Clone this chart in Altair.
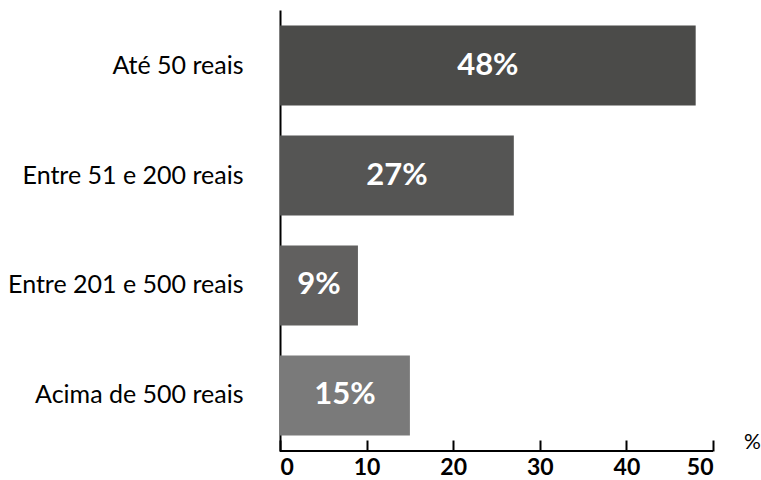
import altair as alt
import pandas as pd

categories = ["Até 50 reais", "Entre 51 e 200 reais", "Entre 201 e 500 reais", "Acima de 500 reais"]
values = [48, 27, 9, 15]
labels = ["48%", "27%", "9%", "15%"]
colors = ["#4b4b49", "#555554", "#61605f", "#7a7a7a"]

df = pd.DataFrame({"cat": categories, "val": values, "lab": labels, "col": colors})
df["half"] = df["val"] / 2

FONT = "Lato"
W, H = 433, 441

x = alt.X("val:Q", scale=alt.Scale(domain=[0, 50], nice=False),
          axis=alt.Axis(values=[0, 10, 20, 30, 40, 50], domain=False, tickSize=11, offset=-11,
                        tickColor="black", tickWidth=2, labelPadding=5,
                        labelFontSize=23, labelFont=FONT, labelColor="black", labelFontWeight="bold",
                        grid=False, title="%", titleFont=FONT, titleFontSize=21, titleFontWeight="normal",
                        titleX=472, titleY=2, titleAlign="center", titleBaseline="middle", titleAngle=0))
y = alt.Y("cat:N", sort=categories,
          scale=alt.Scale(paddingInner=0.2727, paddingOuter=0.141),
          axis=alt.Axis(title=None, ticks=False, domain=True, domainColor="black", domainWidth=2,
                        labelPadding=37, labelFontSize=25, labelFont=FONT, labelColor="black",
                        labelLimit=400))

bars = alt.Chart(df).mark_bar().encode(
    x=x, y=y, color=alt.Color("col:N", scale=None))

text = alt.Chart(df).mark_text(color="white", font=FONT, fontSize=31, fontWeight="bold").encode(
    x=alt.X("half:Q"), y=alt.Y("cat:N", sort=categories), text="lab:N")

base_line = alt.Chart(df).mark_rule(color="black", strokeWidth=2).encode(
    x=alt.datum(0), x2=alt.datum(50), y=alt.value(H))

chart = alt.layer(bars, text, base_line).properties(
    width=W, height=H,
    autosize=alt.AutoSizeParams(type="none"),
    padding={"left": 280, "top": 10, "right": 48, "bottom": 29},
).configure_view(stroke=None)

chart.save("out.html", embed_options={"renderer": "svg", "actions": False})
